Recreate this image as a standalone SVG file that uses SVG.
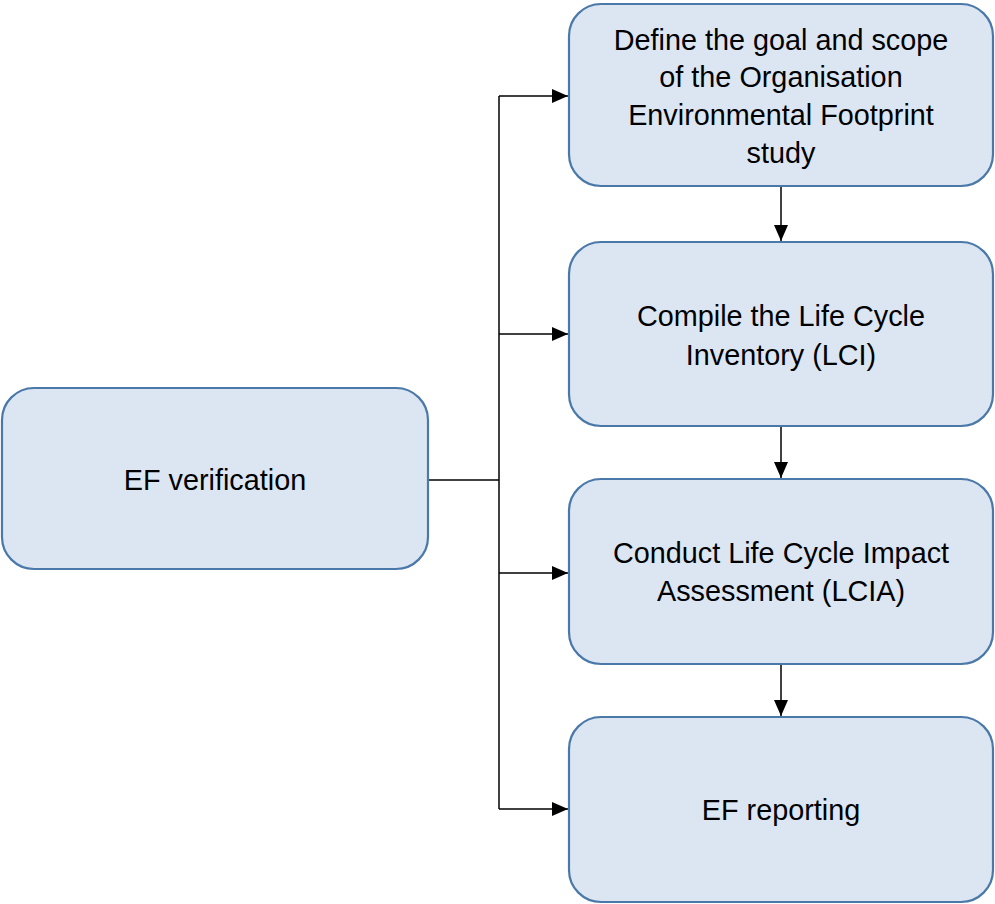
<svg xmlns="http://www.w3.org/2000/svg" width="995" height="904" viewBox="0 0 995 904">
<defs>
<style>
.box{fill:#dce6f3;stroke:#4a78a8;stroke-width:2.2}
.t{font-family:"Liberation Sans",Arial,sans-serif;font-size:28.8px;fill:#000;text-anchor:middle;dominant-baseline:central}
.c{fill:none;stroke:#000;stroke-width:1.5}
</style>
<marker id="ah" markerWidth="16" markerHeight="16" viewBox="0 0 16 14" refX="16" refY="7" orient="auto" markerUnits="userSpaceOnUse">
<path d="M0,0 L16,7 L0,14 Z" fill="#000"/>
</marker>
</defs>
<rect width="995" height="904" fill="#fff"/>
<g id="connectors">
<path class="c" d="M428,480 H499"/>
<path class="c" d="M499,96 V809"/>
<path class="c" d="M499,96 H568" marker-end="url(#ah)"/>
<path class="c" d="M499,334 H568" marker-end="url(#ah)"/>
<path class="c" d="M499,573 H568" marker-end="url(#ah)"/>
<path class="c" d="M499,809 H568" marker-end="url(#ah)"/>
<path class="c" d="M781,186 V241" marker-end="url(#ah)"/>
<path class="c" d="M781,426 V478" marker-end="url(#ah)"/>
<path class="c" d="M781,664 V716" marker-end="url(#ah)"/>
</g>
<g id="ef-verification">
<rect class="box" x="2" y="388" width="426" height="181" rx="32"/>
<text class="t" x="215" y="480">EF verification</text>
</g>
<g id="goal-scope">
<rect class="box" x="569" y="4" width="424" height="182" rx="32"/>
<text class="t" x="781" y="40">Define the goal and scope</text>
<text class="t" x="781" y="77">of the Organisation</text>
<text class="t" x="781" y="115">Environmental Footprint</text>
<text class="t" x="781" y="153">study</text>
</g>
<g id="lci">
<rect class="box" x="569" y="242" width="424" height="184" rx="32"/>
<text class="t" x="781" y="316">Compile the Life Cycle</text>
<text class="t" x="781" y="355">Inventory (LCI)</text>
</g>
<g id="lcia">
<rect class="box" x="569" y="479" width="424" height="185" rx="32"/>
<text class="t" x="781" y="553">Conduct Life Cycle Impact</text>
<text class="t" x="781" y="591">Assessment (LCIA)</text>
</g>
<g id="ef-reporting">
<rect class="box" x="569" y="717" width="424" height="185" rx="32"/>
<text class="t" x="781" y="810">EF reporting</text>
</g>
</svg>
